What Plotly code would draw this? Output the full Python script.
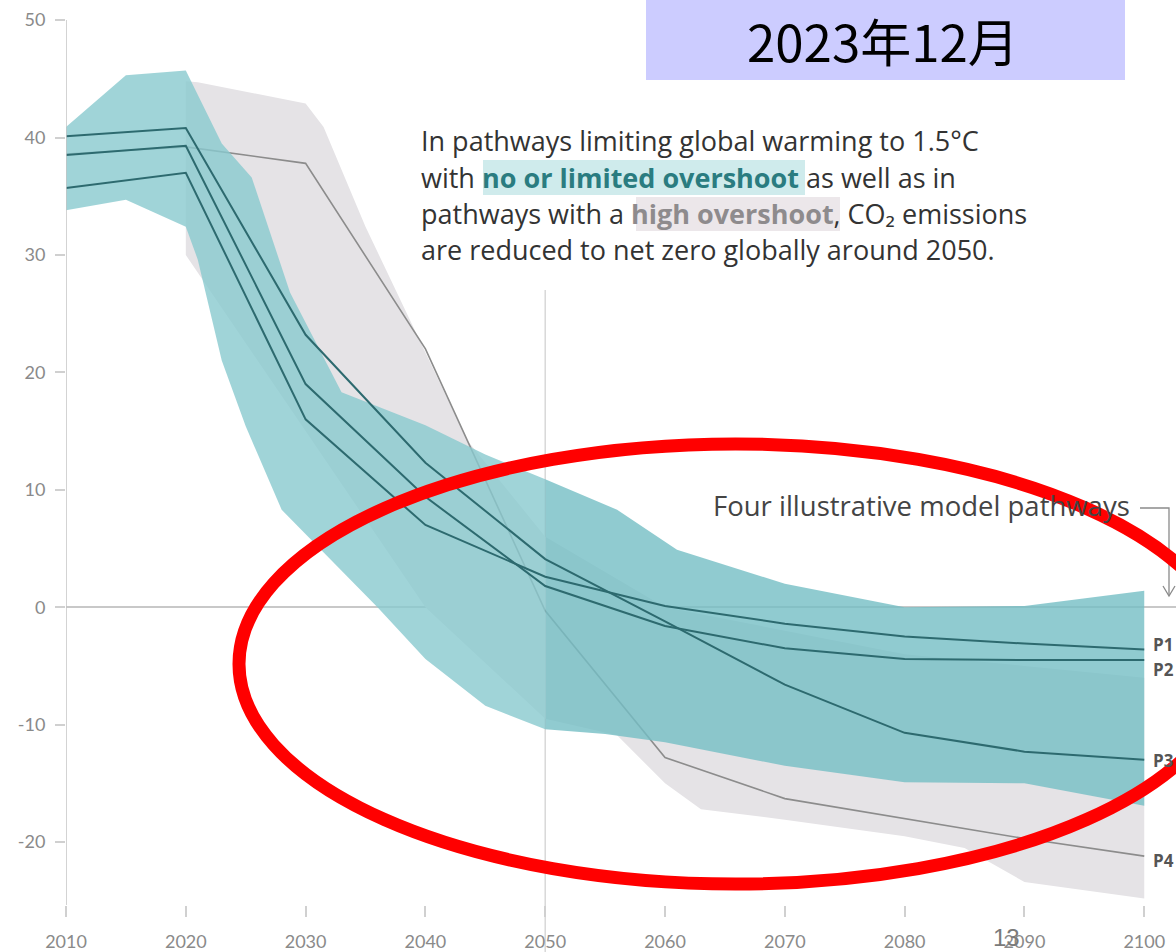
import plotly.graph_objects as go

# ---------------- data ----------------
years = [2010, 2020, 2030, 2040, 2050, 2060, 2070, 2080, 2090, 2100]
P1 = [35.7, 37.0, 16.0, 7.0, 2.6, 0.1, -1.4, -2.5, -3.1, -3.6]
P2 = [38.5, 39.3, 19.0, 9.4, 1.8, -1.6, -3.5, -4.4, -4.5, -4.5]
P3 = [40.1, 40.8, 23.2, 12.3, 4.1, -1.2, -6.6, -10.7, -12.3, -13.0]
P4 = [38.6, 39.2, 37.8, 22.0, -0.3, -12.8, -16.3, -18.0, -19.7, -21.2]

teal_up_years = [2010, 2015, 2020, 2023, 2025.5, 2028.7, 2033, 2040, 2045, 2050, 2056, 2061, 2070, 2080, 2090, 2100]
teal_up = [40.9, 45.3, 45.7, 39.5, 36.6, 26.8, 18.3, 15.5, 13.0, 10.9, 8.3, 4.9, 2.0, 0.0, 0.1, 1.4]
teal_lo_years = [2010, 2015, 2020, 2021, 2023, 2025, 2028, 2036, 2040, 2045, 2050, 2055, 2060, 2070, 2080, 2090, 2100]
teal_lo = [33.8, 34.7, 32.4, 29.6, 21.0, 15.4, 8.3, 0.0, -4.4, -8.4, -10.4, -10.8, -11.5, -13.5, -14.9, -15.0, -16.9]

gray_up_years = [2020, 2021, 2030, 2031.5, 2035, 2039, 2043.5, 2050, 2060, 2070, 2080, 2090, 2100]
gray_up = [44.8, 44.7, 42.9, 40.9, 32.4, 23.9, 14.2, 6.0, 0.0, -2.0, -4.0, -5.0, -6.0]
gray_lo_years = [2020, 2030, 2040, 2050, 2056, 2060, 2063, 2070, 2080, 2085, 2090, 2100]
gray_lo = [30.0, 15.0, 0.0, -9.5, -10.9, -15.0, -17.2, -18.1, -19.5, -20.5, -23.4, -24.8]

y_ticks = [50, 40, 30, 20, 10, 0, -10, -20]
x_ticks = [2010, 2020, 2030, 2040, 2050, 2060, 2070, 2080, 2090, 2100]
path_labels = ["P1", "P2", "P3", "P4"]

# ---------------- geometry helpers (layout only) ----------------
PL, PW, PH = 66, 1110, 905
def px(x):
    return (x - PL) / PW
def py(y):
    return (PH - y) / PH

fig = go.Figure()

def band(xu, yu, xl, yl, color):
    xs = list(xu) + list(xl)[::-1]
    ys = list(yu) + list(yl)[::-1]
    fig.add_trace(go.Scatter(x=xs, y=ys, fill="toself", fillcolor=color,
                             line=dict(width=0), mode="lines", hoverinfo="skip",
                             showlegend=False))

def split(xs, ys, lo, hi):
    px_, py_ = [], []
    for a, b in zip(xs, ys):
        if lo <= a <= hi:
            px_.append(a); py_.append(b)
    return px_, py_

# high overshoot band (grey)
band(gray_up_years, gray_up, gray_lo_years, gray_lo, "#E5E3E6")

# P4 line (grey)
fig.add_trace(go.Scatter(x=years, y=P4, mode="lines",
                         line=dict(color="#8C8C8C", width=1.6),
                         hoverinfo="skip", showlegend=False))

# no / limited overshoot band (teal), two halves
xu1, yu1 = split(teal_up_years, teal_up, 2010, 2050)
xl1, yl1 = split(teal_lo_years, teal_lo, 2010, 2050)
band(xu1, yu1, xl1, yl1, "rgba(136,201,206,0.8)")
xu2, yu2 = split(teal_up_years, teal_up, 2050, 2100)
xl2, yl2 = split(teal_lo_years, teal_lo, 2050, 2100)
band(xu2, yu2, xl2, yl2, "rgba(116,190,196,0.8)")

for s in (P1, P2, P3):
    fig.add_trace(go.Scatter(x=years, y=s, mode="lines",
                             line=dict(color="#2D6A6F", width=2),
                             hoverinfo="skip", showlegend=False))

shapes = []
# y axis line
shapes.append(dict(type="line", xref="x", yref="y", x0=2010, x1=2010, y0=50, y1=-25.36,
                   line=dict(color="#C4C4C4", width=1.5), layer="above"))
# 2050 vertical guide
shapes.append(dict(type="line", xref="x", yref="paper", x0=2050, x1=2050, y0=py(290), y1=py(952),
                   line=dict(color="#D8D8D8", width=1.5), layer="below"))
# title box
shapes.append(dict(type="rect", xref="paper", yref="paper", x0=px(646), x1=px(1125),
                   y0=py(80), y1=py(0), fillcolor="#CCCCFF", line=dict(width=0)))
# text highlights
shapes.append(dict(type="rect", xref="paper", yref="paper", x0=px(483), x1=px(805),
                   y0=py(195), y1=py(160), fillcolor="#CFEBEC", line=dict(width=0), layer="below"))
shapes.append(dict(type="rect", xref="paper", yref="paper", x0=px(636), x1=px(840),
                   y0=py(231), y1=py(197), fillcolor="#ECE7EA", line=dict(width=0), layer="below"))
# bracket + arrow
shapes.append(dict(type="path", xref="paper", yref="paper",
                   path="M {},{} L {},{} L {},{}".format(px(1140), py(508), px(1169), py(508), px(1169), py(595)),
                   line=dict(color="#8A8A8A", width=1.3)))
shapes.append(dict(type="path", xref="paper", yref="paper",
                   path="M {},{} L {},{} L {},{}".format(px(1163), py(586), px(1169), py(596), px(1175), py(586)),
                   line=dict(color="#8A8A8A", width=1.3)))
# red ellipse
shapes.append(dict(type="circle", xref="paper", yref="paper", x0=px(239), x1=px(1232),
                   y0=py(884), y1=py(444), line=dict(color="#FF0000", width=13), layer="above"))

annotations = []
TXT = "Open Sans"
lines = [
    ("In pathways limiting global warming to 1.5°C", 140),
    ("with <b><span style='color:#2A7C80'>no or limited overshoot</span></b> as well as in", 177),
    ("pathways with a <b><span style='color:#8E8B8D'>high overshoot</span></b>, CO₂ emissions", 213),
    ("are reduced to net zero globally around 2050.", 249),
]
for t, yy in lines:
    annotations.append(dict(text=t, x=px(419), y=py(yy), xref="paper", yref="paper",
                            xanchor="left", yanchor="middle", showarrow=False,
                            font=dict(family=TXT, size=27, color="#333333")))
annotations.append(dict(text="Four illustrative model pathways", x=px(711), y=py(505),
                        xref="paper", yref="paper", xanchor="left", yanchor="middle",
                        showarrow=False, font=dict(family=TXT, size=27.5, color="#444444")))
label_y = [644, 669, 760, 860]
for lab, yy in zip(path_labels, label_y):
    annotations.append(dict(text="<b>" + lab + "</b>", x=px(1151), y=py(yy), xref="paper", yref="paper",
                            xanchor="left", yanchor="middle", showarrow=False,
                            font=dict(family=TXT, size=17, color="#555555")))
annotations.append(dict(text="2023年12月", x=px(883), y=py(40), xref="paper", yref="paper",
                        xanchor="center", yanchor="middle", showarrow=False,
                        font=dict(family="Noto Sans CJK JP", size=51, color="#000000")))
annotations.append(dict(text="13", x=px(1006), y=py(937), xref="paper", yref="paper",
                        xanchor="center", yanchor="middle", showarrow=False,
                        font=dict(family="Liberation Sans", size=24, color="#7A7A7A")))

fig.update_layout(
    width=1176, height=952, autosize=False,
    margin=dict(l=66, r=0, t=0, b=47, pad=0),
    paper_bgcolor="white", plot_bgcolor="white",
    showlegend=False, shapes=shapes, annotations=annotations,
    xaxis=dict(range=[2010, 2102.65], tickvals=x_ticks, ticktext=[str(v) for v in x_ticks],
               showgrid=False, zeroline=False, showline=False,
               ticks="outside", ticklen=11, tickwidth=1.5, tickcolor="#D0D0D0",
               ticklabelstandoff=9,
               tickfont=dict(family="Lato", size=18, color="#8A8A8A")),
    yaxis=dict(range=[-25.36, 51.71], tickvals=y_ticks, ticktext=[str(v) for v in y_ticks],
               showgrid=False, zeroline=True, zerolinecolor="#C8C8C8", zerolinewidth=1.5,
               showline=False, ticks="outside", ticklen=10, tickwidth=1.5, tickcolor="#D0D0D0",
               ticklabelstandoff=6,
               tickfont=dict(family="Lato", size=18, color="#8A8A8A")),
)

fig.write_html("out.html", config={"displayModeBar": False})
